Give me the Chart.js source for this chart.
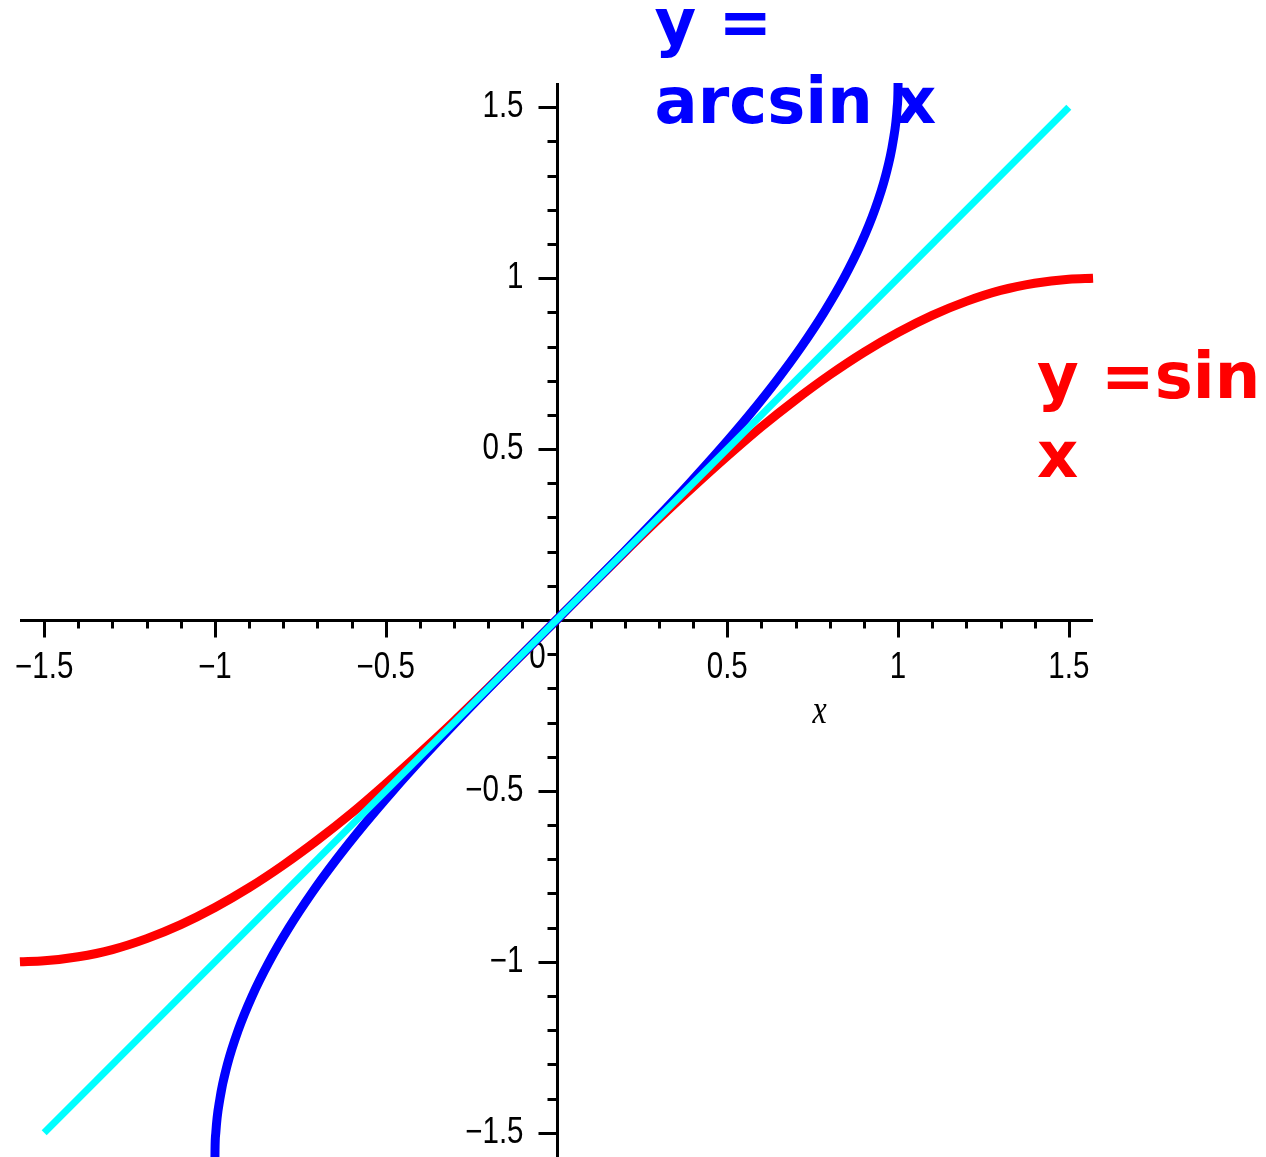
<!DOCTYPE html>
<html>
<head>
<meta charset="utf-8">
<title>sin x and arcsin x</title>
<script src="https://cdn.jsdelivr.net/npm/chart.js@4/dist/chart.umd.min.js"></script>
<style>
  html, body { margin: 0; padding: 0; background: #fff; }
  canvas { display: block; }
</style>
</head>
<body>
<canvas id="plot" width="1266" height="1157"></canvas>
<script>
// y = sin x, sampled across the full window
const sinX = [-1.571, -1.5, -1.4, -1.3, -1.2, -1.1, -1.0, -0.9, -0.8, -0.7, -0.6, -0.5, -0.4, -0.3, -0.2, -0.1,
  0, 0.1, 0.2, 0.3, 0.4, 0.5, 0.6, 0.7, 0.8, 0.9, 1.0, 1.1, 1.2, 1.3, 1.4, 1.5, 1.571];
const sinY = [-1.000, -0.997, -0.985, -0.964, -0.932, -0.891, -0.841, -0.783, -0.717, -0.644, -0.565, -0.479, -0.389, -0.296, -0.199, -0.100,
  0, 0.100, 0.199, 0.296, 0.389, 0.479, 0.565, 0.644, 0.717, 0.783, 0.841, 0.891, 0.932, 0.964, 0.985, 0.997, 1.000];

// y = arcsin x, only defined on [-1, 1]
const asinX = [-1.0000, -0.9998, -0.9975, -0.9854, -0.9636, -0.9320, -0.8912, -0.8415, -0.7833, -0.7174, -0.6442, -0.5646, -0.4794, -0.3894, -0.2955, -0.1987, -0.0998,
  0, 0.0998, 0.1987, 0.2955, 0.3894, 0.4794, 0.5646, 0.6442, 0.7174, 0.7833, 0.8415, 0.8912, 0.9320, 0.9636, 0.9854, 0.9975, 0.9998, 1.0000];
const asinY = [-1.571, -1.55, -1.5, -1.4, -1.3, -1.2, -1.1, -1.0, -0.9, -0.8, -0.7, -0.6, -0.5, -0.4, -0.3, -0.2, -0.1,
  0, 0.1, 0.2, 0.3, 0.4, 0.5, 0.6, 0.7, 0.8, 0.9, 1.0, 1.1, 1.2, 1.3, 1.4, 1.5, 1.55, 1.571];

// y = x reference line
const lineX = [-1.5, 1.5];
const lineY = [-1.5, 1.5];

const axisRange = [-1.5708, 1.5708];
const majorTicks = [-1.5, -1, -0.5, 0, 0.5, 1, 1.5];
const tickLabels = ['\u22121.5', '\u22121', '\u22120.5', '0', '0.5', '1', '1.5'];
const minorStep = 0.1;

const zip = (xs, ys) => xs.map((x, i) => ({ x, y: ys[i] }));

const tickFont = '36px "Liberation Sans Narrow", "Liberation Sans", sans-serif';
const squeeze = 0.82; // narrow the tick digits a bit

// snap to the middle of a pixel so 3px strokes stay crisp
const snap = v => Math.round(v) + 0.5;

// text drawn with a horizontal squeeze, anchored at (px, py)
function narrowText(ctx, text, px, py, align) {
  ctx.save();
  ctx.translate(px, py);
  ctx.scale(squeeze, 1);
  ctx.textAlign = align;
  ctx.fillText(text, 0, 0);
  ctx.restore();
}

// Maple-style axes crossing at the origin, ticks hanging off the axis lines
const crossAxes = {
  id: 'crossAxes',
  beforeDatasetsDraw(chart) {
    const { ctx, chartArea: a, scales: { x, y } } = chart;
    const x0 = snap(x.getPixelForValue(0));
    const y0 = snap(y.getPixelForValue(0));
    ctx.save();
    ctx.strokeStyle = '#000';
    ctx.fillStyle = '#000';
    ctx.lineWidth = 3;
    ctx.lineCap = 'butt';
    ctx.beginPath();
    ctx.moveTo(a.left, y0); ctx.lineTo(a.right, y0);
    ctx.moveTo(x0, a.top); ctx.lineTo(x0, a.bottom);
    ctx.stroke();

    // minor + major tick marks
    ctx.beginPath();
    for (let k = -15; k <= 15; k++) {
      if (k === 0) continue;
      const v = k * minorStep;
      const major = k % 5 === 0;
      const px = snap(x.getPixelForValue(v));
      ctx.moveTo(px, y0); ctx.lineTo(px, y0 + (major ? 17 : 8));
      const py = snap(y.getPixelForValue(v));
      ctx.moveTo(x0, py); ctx.lineTo(x0 - (major ? 19 : 10), py);
    }
    ctx.stroke();

    ctx.font = tickFont;
    majorTicks.forEach((v, i) => {
      const label = tickLabels[i];
      ctx.textBaseline = 'alphabetic';
      if (v === 0) {
        narrowText(ctx, label, x0 - 20, y0 + 47, 'center');
        return;
      }
      narrowText(ctx, label, x.getPixelForValue(v), y0 + 57, 'center');
      ctx.textBaseline = 'middle';
      narrowText(ctx, label, x0 - 34, y.getPixelForValue(v), 'right');
    });

    ctx.font = 'italic 39px "Liberation Serif", serif';
    ctx.textBaseline = 'alphabetic';
    narrowText(ctx, 'x', x.getPixelForValue(0.77), y0 + 102, 'center');
    ctx.restore();
  }
};

// curve captions, anchored in data coordinates
const captions = [
  { lines: ['y =', 'arcsin x'], x: 0.287, y: 1.686, color: '#0000ff' },
  { lines: ['y =sin', 'x'], x: 1.407, y: 0.65, color: '#ff0000' }
];

const captionPlugin = {
  id: 'captions',
  afterDatasetsDraw(chart) {
    const { ctx, scales: { x, y } } = chart;
    ctx.save();
    ctx.font = 'bold 64px "DejaVu Sans", sans-serif';
    ctx.textAlign = 'left';
    ctx.textBaseline = 'alphabetic';
    captions.forEach(c => {
      ctx.fillStyle = c.color;
      const px = x.getPixelForValue(c.x);
      const py = y.getPixelForValue(c.y);
      c.lines.forEach((t, i) => ctx.fillText(t, px, py + i * 79));
    });
    ctx.restore();
  }
};

new Chart(document.getElementById('plot'), {
  type: 'scatter',
  data: {
    datasets: [
      { label: 'sin', data: zip(sinX, sinY), borderColor: '#ff0000', borderWidth: 9 },
      { label: 'arcsin', data: zip(asinX, asinY), borderColor: '#0000ff', borderWidth: 9 },
      { label: 'identity', data: zip(lineX, lineY), borderColor: '#00ffff', borderWidth: 7, cubicInterpolationMode: 'default', tension: 0 }
    ].map((d, i) => Object.assign({
      showLine: true,
      pointRadius: 0,
      pointHoverRadius: 0,
      fill: false,
      cubicInterpolationMode: 'monotone',
      borderCapStyle: 'butt',
      clip: false,
      order: 3 - i
    }, d))
  },
  options: {
    responsive: false,
    animation: false,
    devicePixelRatio: 1,
    layout: { padding: { left: 20, right: 173, top: 83, bottom: 0 } },
    scales: {
      x: { type: 'linear', min: axisRange[0], max: axisRange[1], display: false },
      y: { type: 'linear', min: axisRange[0], max: axisRange[1], display: false }
    },
    plugins: {
      legend: { display: false },
      tooltip: { enabled: false }
    },
    events: []
  },
  plugins: [crossAxes, captionPlugin]
});
</script>
</body>
</html>
